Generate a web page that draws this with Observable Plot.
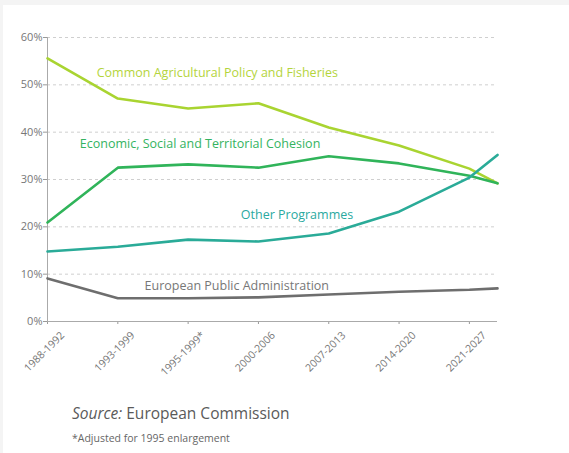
<!DOCTYPE html>
<html>
<head>
<meta charset="utf-8">
<script src="https://cdn.jsdelivr.net/npm/d3@7"></script>
<script src="https://cdn.jsdelivr.net/npm/@observablehq/plot@0.6"></script>
<style>
  html, body { margin: 0; padding: 0; background: #f4f4f4; }
  #wrap { position: absolute; left: 3px; top: 5px; width: 566px; height: 448px; background: #fff; }
  #chart { position: absolute; left: -3px; top: -5px; }
  #cap { position: absolute; left: 69px; top: 397px; font-family: "Open Sans", sans-serif; color: #5a5a5a; }
  #src { font-size: 15.5px; }
  #note { font-size: 10.5px; margin-top: 7px; color: #666; }
</style>
</head>
<body>
<div id="wrap">
  <div id="chart"></div>
  <div id="cap">
    <div id="src"><i>Source:</i> European Commission</div>
    <div id="note">*Adjusted for 1995 enlargement</div>
  </div>
</div>
<script>
// Tick labels (periods)
const periods = ["1988-1992", "1993-1999", "1995-1999*", "2000-2006", "2007-2013", "2014-2020", "2021-2027"];
// x-index of each data point (last point is the end of the line past the final tick)
const xIndex = [0, 1, 2, 3, 4, 5, 6, 6.4];

const seriesNames = [
  "Common Agricultural Policy and Fisheries",
  "Economic, Social and Territorial Cohesion",
  "Other Programmes",
  "European Public Administration"
];
const capValues      = [55.6, 47.1, 45.0, 46.1, 41.0, 37.2, 32.3, 29.2];
const cohesionValues = [20.9, 32.5, 33.2, 32.5, 34.9, 33.4, 30.8, 29.2];
const otherValues    = [14.8, 15.8, 17.3, 16.9, 18.6, 23.2, 30.4, 35.2];
const adminValues    = [9.1, 4.9, 4.9, 5.1, 5.7, 6.3, 6.7, 7.0];

const lineColors = ["#a9d431", "#30b45a", "#2aab98", "#6e6e6e"];
const labelColors = ["#b4d43c", "#34b35f", "#2aa9a0", "#777777"];

// label anchor points (x-index, value %)
const labelX = [0.70, 0.46, 2.75, 1.38];
const labelY = [52.6, 37.6, 22.6, 7.6];

const allValues = [capValues, cohesionValues, otherValues, adminValues];
const data = [];
allValues.forEach((vals, s) => vals.forEach((v, i) => data.push({series: seriesNames[s], x: xIndex[i], y: v})));
const labels = seriesNames.map((n, s) => ({series: n, x: labelX[s], y: labelY[s]}));

const yTicks = [0, 10, 20, 30, 40, 50, 60];

const chart = Plot.plot({
  width: 569,
  height: 392,
  marginLeft: 47,
  marginRight: 72,
  marginTop: 37,
  marginBottom: 71,
  style: { fontFamily: "Open Sans, sans-serif", fontSize: "11px", color: "#777", background: "transparent" },
  x: { domain: [0, 6.4], label: null },
  y: { domain: [0, 60], label: null },
  color: { domain: seriesNames, range: lineColors },
  marks: [
    Plot.gridY(yTicks.filter(d => d > 0), { stroke: "#cfcfcf", strokeOpacity: 1, strokeDasharray: "3,3" }),
    Plot.axisY({ ticks: yTicks, tickFormat: d => d + "%", tickSize: 4, stroke: "#999", fill: "#777", tickPadding: 1, fontSize: 11 }),
    Plot.axisX({ ticks: d3.range(periods.length), tickFormat: i => periods[i], tickRotate: -45, tickSize: 3, stroke: "#999", fill: "#777", fontSize: 10.5, tickPadding: 3, textStroke: "none" }),
    Plot.ruleY([0], { stroke: "#aaa" }),
    Plot.ruleX([0], { stroke: "#aaa" }),
    Plot.line(data, { x: "x", y: "y", z: "series", stroke: "series", strokeWidth: 2.6, curve: "linear" }),
    Plot.text(labels, { x: "x", y: "y", text: "series", textAnchor: "start", fill: (d) => labelColors[seriesNames.indexOf(d.series)], fontSize: 12.5 })
  ]
});
// shift rotated x tick labels to match reference placement
chart.querySelectorAll("g[aria-label='x-axis tick label'] text").forEach(t => {
  const tr = t.getAttribute("transform") || "";
  t.setAttribute("transform", "translate(15,6) " + tr);
});
document.getElementById("chart").appendChild(chart);
</script>
</body>
</html>
